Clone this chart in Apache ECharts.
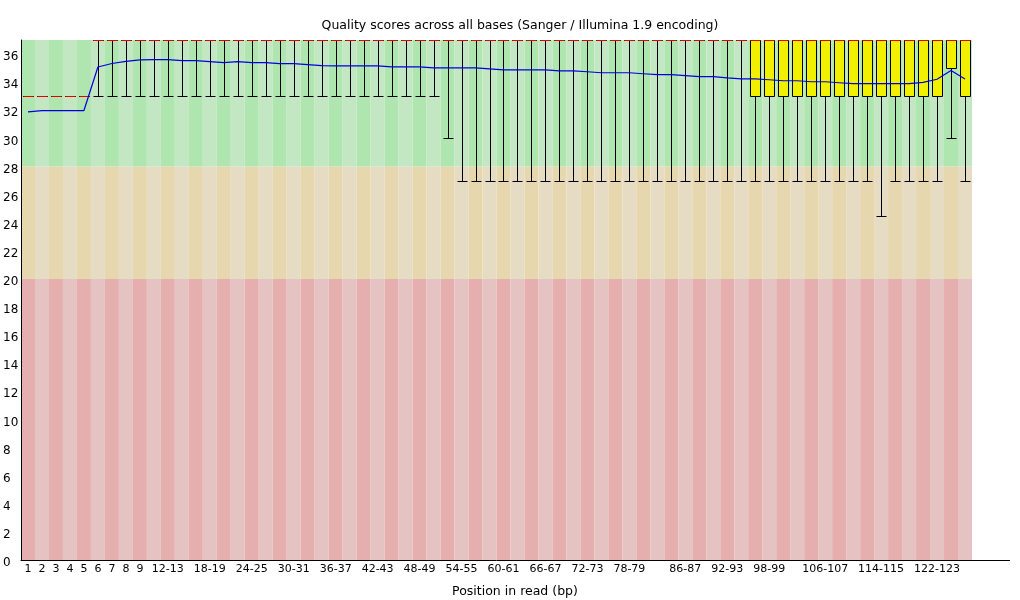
<!DOCTYPE html>
<html>
<head>
<meta charset="utf-8">
<script src="https://cdn.jsdelivr.net/npm/echarts@6/dist/echarts.min.js"></script>
<style>
html,body{margin:0;padding:0;background:#fff;}
#chart{width:1020px;height:600px;}
</style>
</head>
<body>
<div id="chart"></div>
<script>
// ---- DATA ----
const categories = ['1','2','3','4','5','6','7','8','9',
  '10-11','12-13','14-15','16-17','18-19','20-21','22-23','24-25','26-27','28-29',
  '30-31','32-33','34-35','36-37','38-39','40-41','42-43','44-45','46-47','48-49',
  '50-51','52-53','54-55','56-57','58-59','60-61','62-63','64-65','66-67','68-69',
  '70-71','72-73','74-75','76-77','78-79','80-81','82-83','84-85','86-87','88-89',
  '90-91','92-93','94-95','96-97','98-99','100-101','102-103','104-105','106-107','108-109',
  '110-111','112-113','114-115','116-117','118-119','120-121','122-123','124-125','126'];

const tickLabels = ['1','2','3','4','5','6','7','8','9','12-13','18-19','24-25','30-31',
  '36-37','42-43','48-49','54-55','60-61','66-67','72-73','78-79','86-87','92-93',
  '98-99','106-107','114-115','122-123'];

// 10th percentile (lower whisker)
const lower10 = [33,33,33,33,33,
  33,33,33,33,33,33,33,33,33,33,33,33,33,33,33,33,33,33,33,33,33,33,33,33,33,
  30,
  27,27,27,27,27,27,27,27,27,27,27,27,27,27,27,27,27,27,27,27,27,27,27,27,27,27,27,27,27,27,
  24.5,
  27,27,27,27,30,27];
// lower quartile
const q1 = [33,33,33,33,33,
  37,37,37,37,37,37,37,37,37,37,37,37,37,37,37,37,37,37,37,37,37,37,37,37,37,
  37,37,37,37,37,37,37,37,37,37,37,37,37,37,37,37,37,37,37,37,37,37,
  33,33,33,33,33,33,33,33,33,33,33,33,33,33,35,33];
// median
const median = [33,33,33,33,33,
  37,37,37,37,37,37,37,37,37,37,37,37,37,37,37,37,37,37,37,37,37,37,37,37,37,
  37,37,37,37,37,37,37,37,37,37,37,37,37,37,37,37,37,37,37,37,37,37,
  37,37,37,37,37,37,37,37,37,37,37,37,37,37,37,37];
// upper quartile
const q3 = [33,33,33,33,33,
  37,37,37,37,37,37,37,37,37,37,37,37,37,37,37,37,37,37,37,37,37,37,37,37,37,
  37,37,37,37,37,37,37,37,37,37,37,37,37,37,37,37,37,37,37,37,37,37,
  37,37,37,37,37,37,37,37,37,37,37,37,37,37,37,37];
// 90th percentile (upper whisker)
const upper90 = [33,33,33,33,33,
  37,37,37,37,37,37,37,37,37,37,37,37,37,37,37,37,37,37,37,37,37,37,37,37,37,
  37,37,37,37,37,37,37,37,37,37,37,37,37,37,37,37,37,37,37,37,37,37,
  37,37,37,37,37,37,37,37,37,37,37,37,37,37,37,37];
// mean quality
const mean = [31.88,31.98,31.98,31.98,31.98,
  35.08,35.33,35.48,35.58,35.6,35.6,35.53,35.53,35.46,35.39,35.46,35.39,35.39,35.32,35.32,
  35.25,35.18,35.16,35.16,35.16,35.16,35.09,35.09,35.09,35.02,35.02,35.02,35.02,34.95,34.88,
  34.88,34.88,34.88,34.81,34.81,34.74,34.67,34.67,34.67,34.6,34.53,34.53,34.46,34.39,34.39,
  34.31,34.24,34.24,34.17,34.1,34.1,34.03,34.03,33.96,33.89,33.89,33.89,33.89,33.89,33.98,
  34.21,34.83,34.23];

// quality zones (bad / ok / good)
const zoneBounds = [[0,20],[20,28],[28,37]];

// ---- STYLE ----
const zoneColors = [
  ['#E6AFAF','#E6C3C3'],
  ['#E6D7AF','#E6DCC3'],
  ['#AFE6AF','#C3E6C3']
];
const FONT = 'DejaVu Sans';

const chart = echarts.init(document.getElementById('chart'), null, {renderer:'canvas'});

const crisp = v => Math.round(v) + 0.5;

const option = {
  animation: false,
  backgroundColor: '#ffffff',
  title: [
    {text: 'Quality scores across all bases (Sanger / Illumina 1.9 encoding)',
     left: 515, top: 14, textAlign: 'center',
     textStyle: {fontFamily: FONT, fontSize: 12.5, fontWeight: 'normal', color: '#000'}},
    {text: 'Position in read (bp)',
     left: 510, top: 580, textAlign: 'center',
     textStyle: {fontFamily: FONT, fontSize: 12.5, fontWeight: 'normal', color: '#000'}}
  ],
  grid: {left: 20, top: 40, right: 48, bottom: 40, containLabel: false},
  xAxis: {
    type: 'category',
    data: categories,
    boundaryGap: true,
    axisLine: {show: true, lineStyle: {color: '#000', width: 1}},
    axisTick: {show: false},
    splitLine: {show: false},
    axisLabel: {
      interval: (idx, val) => tickLabels.includes(val),
      fontFamily: FONT, fontSize: 11, color: '#000', margin: 4
    }
  },
  yAxis: {
    type: 'value',
    min: 0, max: 37, interval: 2,
    axisLine: {show: true, lineStyle: {color: '#000', width: 1}},
    axisTick: {show: false},
    splitLine: {show: false},
    axisLabel: {
      showMaxLabel: false,
      align: 'left', margin: 18,
      verticalAlign: 'top', lineHeight: 6,
      fontFamily: FONT, fontSize: 12, color: '#000'
    }
  },
  graphic: [
    {type: 'line', silent: true, z: 10,
     shape: {x1: 972, y1: 560.5, x2: 1010, y2: 560.5},
     style: {stroke: '#000', lineWidth: 1}}
  ],
  series: [
    {
      type: 'custom',
      silent: true,
      z: 0,
      data: categories.map((c, i) => [i, 37]),
      encode: {x: 0, y: 1},
      renderItem: function (params, api) {
        const i = api.value(0);
        const w = api.size([1, 0])[0];
        const children = zoneBounds.map((zb, j) => {
          const pLo = api.coord([i, zb[0]]);
          const pHi = api.coord([i, zb[1]]);
          return {
            type: 'rect',
            shape: {x: pLo[0] - w / 2, y: pHi[1], width: w, height: pLo[1] - pHi[1]},
            style: {fill: zoneColors[j][i % 2]}
          };
        });
        return {type: 'group', children: children};
      }
    },
    {
      // box-whisker: [index, lower10, q1, median, q3, upper90]
      type: 'custom',
      silent: true,
      z: 3,
      data: categories.map((c, i) => [i, lower10[i], q1[i], median[i], q3[i], upper90[i]]),
      encode: {x: 0, y: [1, 2, 3, 4, 5]},
      renderItem: function (params, api) {
        const i = api.value(0);
        const cx = crisp(api.coord([i, 0])[0]);
        const yv = d => crisp(api.coord([i, api.value(d)])[1]);
        const yLo = yv(1), yQ1 = yv(2), yMed = yv(3), yQ3 = yv(4), yHi = yv(5);
        const half = 5;
        const black = {stroke: '#000', lineWidth: 1};
        const children = [
          {type: 'line', shape: {x1: cx, y1: yQ1, x2: cx, y2: yLo}, style: black},
          {type: 'line', shape: {x1: cx, y1: yQ3, x2: cx, y2: yHi}, style: black},
          {type: 'line', shape: {x1: cx - half, y1: yLo, x2: cx + half, y2: yLo}, style: black},
          {type: 'line', shape: {x1: cx - half, y1: yHi, x2: cx + half, y2: yHi}, style: black},
          {type: 'rect', shape: {x: cx - half, y: yQ3, width: 2 * half, height: yQ1 - yQ3},
           style: {fill: '#F0F000', stroke: '#000', lineWidth: 1}},
          {type: 'line', shape: {x1: cx - half, y1: yMed, x2: cx + half, y2: yMed},
           style: {stroke: '#E80000', lineWidth: 1}}
        ];
        return {type: 'group', children: children};
      }
    },
    {
      type: 'line',
      silent: true,
      z: 5,
      data: mean,
      symbol: 'none',
      lineStyle: {color: '#0000E0', width: 1.2},
      emphasis: {disabled: true}
    }
  ]
};
chart.setOption(option);
</script>
</body>
</html>
